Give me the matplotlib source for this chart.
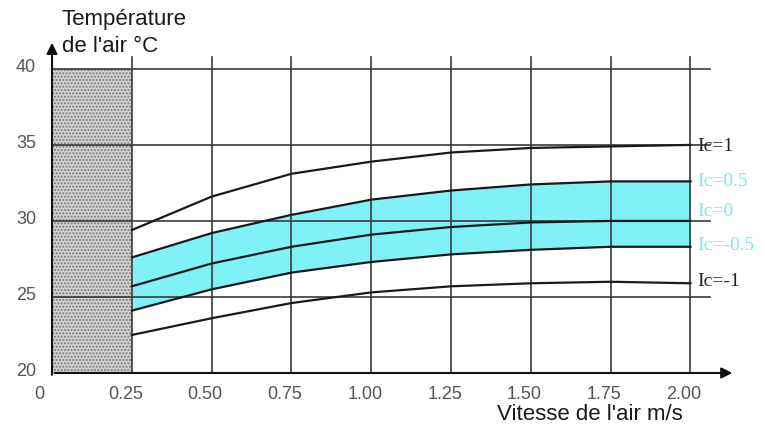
import matplotlib.pyplot as plt

# air speed (m/s) and air temperature (deg C)
speed = [0.25, 0.50, 0.75, 1.00, 1.25, 1.50, 1.75, 2.00]
ic_p1 = [29.4, 31.6, 33.1, 33.9, 34.5, 34.8, 34.9, 35.0]
ic_p05 = [27.6, 29.2, 30.4, 31.4, 32.0, 32.4, 32.6, 32.6]
ic_0 = [25.7, 27.2, 28.3, 29.1, 29.6, 29.9, 30.0, 30.0]
ic_m05 = [24.1, 25.5, 26.6, 27.3, 27.8, 28.1, 28.3, 28.3]
ic_m1 = [22.5, 23.6, 24.6, 25.3, 25.7, 25.9, 26.0, 25.9]

x_ticks = [0, 0.25, 0.50, 0.75, 1.00, 1.25, 1.50, 1.75, 2.00]
x_labels = ['0', '0.25', '0.50', '0.75', '1.00', '1.25', '1.50', '1.75', '2.00']
y_ticks = [20, 25, 30, 35, 40]

labels = ['Ic=1', 'Ic=0.5', 'Ic=0', 'Ic=-0.5', 'Ic=-1']
label_y = [34.9, 32.6, 30.6, 28.4, 26.0]
label_colors = ['#222222', '#80e8ee', '#80e8ee', '#80e8ee', '#222222']

fig = plt.figure(figsize=(7.65, 4.3), dpi=100)
ax = fig.add_axes([0.068, 0.1326, 0.893, 0.7744])
ax.set_xlim(0, 2.14)
ax.set_ylim(20, 41.9)
for s in ax.spines.values():
    s.set_visible(False)
ax.set_xticks([])
ax.set_yticks([])

grid = '#3a3a3a'
# hatched zone below 0.25 m/s
plt.rcParams['hatch.linewidth'] = 1.0
ax.fill_between([0, 0.25], 20, 40, facecolor='#d2d2d2', edgecolor='#7a7a7a',
                hatch='.....', linewidth=0, zorder=1)

# comfort band
ax.fill_between(speed, ic_m05, ic_p05, color='#80f2f6', linewidth=0, zorder=2)

for t in y_ticks[1:]:
    ax.plot([0, 2.06], [t, t], color=grid, lw=1.2, zorder=3)
for v in x_ticks[1:]:
    ax.plot([v, v], [19.8, 40.8], color=grid, lw=1.2, zorder=3)

for ys in [ic_p1, ic_p05, ic_0, ic_m05, ic_m1]:
    ax.plot(speed, ys, color='#1a1a1a', lw=1.6, zorder=4)

# axes with arrows
ax.annotate('', xy=(2.14, 20), xytext=(0, 20),
            arrowprops=dict(arrowstyle='-|>', color='#111111', lw=1.5,
                            mutation_scale=16), annotation_clip=False)
ax.annotate('', xy=(0, 41.9), xytext=(0, 19.7),
            arrowprops=dict(arrowstyle='-|>', color='#111111', lw=1.5,
                            mutation_scale=16), annotation_clip=False)

for v, lab in zip(x_ticks, x_labels):
    xpos = -0.04 if v == 0 else v - 0.02
    ax.text(xpos, 18.6, lab, ha='center', va='center', fontsize=13,
            color='#555555', family='Liberation Sans')
for t in y_ticks:
    ax.text(-0.05, t + 0.1, str(t), ha='right', va='center', fontsize=13,
            color='#555555', family='Liberation Sans', clip_on=False)

for lab, yv, c in zip(labels, label_y, label_colors):
    ax.text(2.02, yv, lab, ha='left', va='center', fontsize=14, color=c,
            family='Liberation Serif', clip_on=False)

fig.text(0.081, 0.955, 'Température', fontsize=16, color='#1a1a1a',
         family='Liberation Sans', va='center')
fig.text(0.081, 0.892, "de l'air °C", fontsize=16, color='#1a1a1a',
         family='Liberation Sans', va='center')
fig.text(0.65, 0.037, "Vitesse de l'air m/s", fontsize=16, color='#1a1a1a',
         family='Liberation Sans', va='center')

fig.savefig('out.png', dpi=100)
